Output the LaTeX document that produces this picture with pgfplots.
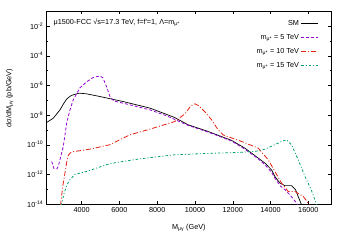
\documentclass[border=0pt]{standalone}
\usepackage{pgfplots}
\pgfplotsset{compat=1.18}
\usepackage{fontspec}
\setmainfont{Liberation Sans}
\definecolor{cpurple}{HTML}{9400D3}
\definecolor{cred}{HTML}{E51E10}
\definecolor{cgreen}{HTML}{009E73}
\begin{document}
\begin{tikzpicture}[font=\fontsize{7.3}{8.5}\selectfont]
\path[use as bounding box] (-46.7bp,-41bp) rectangle (303.3bp,204bp);
\begin{axis}[
  at={(0,0)}, anchor=south west, scale only axis,
  width=284.3bp, height=192.7bp,
  xmin=2150, xmax=17200, ymode=log, ymin=1e-14, ymax=1e-1,
  scaled x ticks=false,
  xtick={4000,6000,8000,10000,12000,14000,16000},
  xticklabels={4000,6000,8000,10000,12000,14000,16000},
  ytick={1e-14,1e-12,1e-10,1e-8,1e-6,1e-4,1e-2},
  yticklabels={10\textsuperscript{-14},10\textsuperscript{-12},10\textsuperscript{-10},10\textsuperscript{-8},10\textsuperscript{-6},10\textsuperscript{-4},10\textsuperscript{-2}},
  minor ytick={1e-13,1e-11,1e-9,1e-7,1e-5,1e-3},
  tick align=inside, major tick length=3bp, minor tick length=1.5bp,
  tick style={black, line width=0.4pt},
  axis line style={black, line width=0.5pt},
  xlabel={M\textsubscript{μγ} (GeV)},
  ylabel={dσ/dM\textsubscript{μγ} (pb/GeV)},
  xlabel style={at={(axis description cs:0.5,0)}, anchor=center, yshift=-24bp},
  ylabel style={at={(axis description cs:-0.13,0.55)}, anchor=center},
  legend style={at={(axis description cs:1,1)}, anchor=north east, xshift=-9bp, yshift=-5bp,
    draw=none, fill=none, row sep=3.5bp, font=\fontsize{7.3}{8.5}\selectfont},
  legend cell align=right, legend plot pos=right,
]
\addplot[color=black, line width=0.7pt] coordinates {
(2150,3.16e-9) (2499,6.17e-9) (2854,2.24e-8) (3050,6.03e-8) (3208,1.20e-7) (3400,1.91e-7)
(3557,2.34e-7) (3875,3.02e-7)
(4266,2.69e-7) (4970,1.78e-7) (6202,8.13e-8) (7616,2.95e-8) (8900,7.08e-9) (9640,2.19e-9)
(10700,7.76e-10) (11937,1.95e-10) (12640,5.89e-11) (13343,1.26e-11) (13700,5.75e-12)
(14050,2.04e-12) (14227,7.24e-13) (14490,2.63e-13) (14756,1.74e-13) (15110,1.74e-13)
(15320,9.33e-14) (15460,3.31e-14) (15600,1.17e-14) (15650,8e-15)};
\addplot[color=cpurple, line width=0.8pt, dash pattern=on 3bp off 2bp] coordinates {
(2415,7.41e-12) (2536,2.40e-12) (2695,2.40e-12) (2764,3.47e-12) (3028,7.59e-11) (3208,2.88e-9)
(3383,2.24e-8) (3557,1.07e-7) (3912,6.92e-7) (4266,1.74e-6) (4615,3.47e-6) (4970,4.37e-6)
(5128,3.24e-6) (5324,7.94e-7) (5500,1.78e-7) (5700,8.91e-8) (6200,6.31e-8) (7000,3.55e-8)
(7616,2.24e-8) (8500,8.91e-9) (9640,2.0e-9) (10700,7.08e-10) (11937,1.78e-10) (12640,5.01e-11)
(13343,1.12e-11) (13700,4.47e-12) (14050,1.41e-12) (14227,5.62e-13) (14490,1.78e-13)
(14756,9.33e-14) (15000,4.47e-14) (15200,2.19e-14) (15375,1.17e-14) (15450,8e-15)};
\addplot[color=cred, line width=0.8pt, dash pattern=on 5bp off 2bp on 1bp off 2bp] coordinates {
(2870,8e-15) (2890,1e-14) (3000,1.58e-13) (3118,1.26e-12) (3220,7.94e-12) (3293,1.91e-11)
(3400,2.82e-11) (3557,3.39e-11) (4440,5.01e-11) (5498,1.0e-10) (5800,1.58e-10) (6556,4.68e-10)
(7616,1.12e-9) (8937,3.72e-9) (9465,1.20e-8) (9783,4.17e-8) (9994,5.75e-8) (10206,4.17e-8)
(10523,1.66e-8) (10878,4.79e-9) (11200,1.12e-9) (11500,4.47e-10) (12465,1.66e-10)
(13343,5.89e-11) (13873,9.77e-12) (14227,1.58e-12) (14580,2.63e-13) (14930,7.08e-14)
(15285,7.08e-14) (15724,3.31e-14) (15988,1.17e-14) (16050,8e-15)};
\addplot[color=cgreen, line width=0.8pt, dash pattern=on 2.5bp off 2bp on 1bp off 2bp] coordinates {
(2890,8e-15) (2944,1e-14) (3065,5.01e-14) (3224,2.0e-13) (3383,4.37e-13) (3650,1e-12)
(4266,1.58e-12) (5324,4.47e-12) (5673,5.75e-12) (7086,1.12e-11) (8937,2.09e-11)
(10788,2.63e-11) (12380,3.02e-11) (13200,3.55e-11) (13700,5.01e-11) (14230,1e-10)
(14580,1.66e-10) (14850,2.14e-10) (15110,1e-10) (15460,1e-11) (15810,7.94e-13)
(16170,7.94e-14) (16430,1e-14) (16500,7e-15)};
\addlegendimage{color=black, line width=0.7pt, legend image code/.code={\draw[color=black, line width=0.7pt] (0bp,0bp) -- (26bp,0bp);}}
\addlegendentry{SM}
\addlegendimage{legend image code/.code={\draw[color=cpurple, line width=0.8pt, dash pattern=on 3bp off 2bp] (0bp,0bp) -- (26bp,0bp);}}
\addlegendentry{m\textsubscript{μ*} = 5 TeV}
\addlegendimage{legend image code/.code={\draw[color=cred, line width=0.8pt, dash pattern=on 5bp off 2bp on 1bp off 2bp] (0bp,0bp) -- (26bp,0bp);}}
\addlegendentry{m\textsubscript{μ*} = 10 TeV}
\addlegendimage{legend image code/.code={\draw[color=cgreen, line width=0.8pt, dash pattern=on 2.5bp off 2bp on 1bp off 2bp] (0bp,0bp) -- (26bp,0bp);}}
\addlegendentry{m\textsubscript{μ*} = 15 TeV}
\node[anchor=west, inner sep=1bp] at (rel axis cs:0.02,0.941) {μ1500-FCC √s=17.3 TeV, f=f′=1, Λ=m\textsubscript{μ*}};
\end{axis}
\end{tikzpicture}
\end{document}
